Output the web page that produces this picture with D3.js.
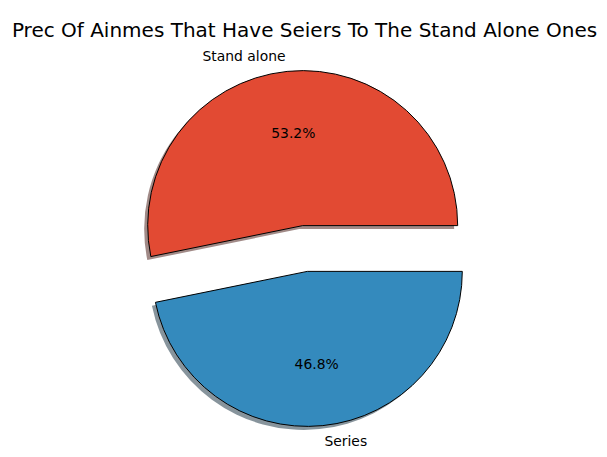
<!DOCTYPE html>
<html>
<head>
<meta charset="utf-8">
<script src="https://cdn.jsdelivr.net/npm/d3@7"></script>
<style>
  html, body { margin: 0; padding: 0; background: #ffffff; }
  svg { display: block; font-family: "DejaVu Sans", sans-serif; }
</style>
</head>
<body>
<script>
const categories = ["Stand alone", "Series"];
const values = [53.2, 46.8];
const colors = ["#E24A33", "#348ABD"];
const titleText = "Prec Of Ainmes That Have Seiers To The Stand Alone Ones";

const W = 607, H = 457;
const cx = 305, cy = 248.5, R = 155, explode = 23;
const shadowDx = -3.5, shadowDy = 3.5;

const svg = d3.select("body").append("svg").attr("width", W).attr("height", H);

// matplotlib: counterclockwise from east; d3: clockwise from north
const pie = d3.pie().sort(null).value(d => d)
  .startAngle(Math.PI / 2).endAngle(Math.PI / 2 - 2 * Math.PI);
const arcs = pie(values);
const arc = d3.arc().innerRadius(0).outerRadius(R);

const data = arcs.map((a, i) => {
  const mid = (a.startAngle + a.endAngle) / 2;
  const ux = Math.sin(mid), uy = -Math.cos(mid);
  return { a, i, mid, ux, uy, ox: cx + explode * ux, oy: cy + explode * uy };
});

// shadows
svg.append("g").selectAll("path.shadow").data(data).join("path")
  .attr("class", "shadow")
  .attr("transform", d => `translate(${d.ox + shadowDx},${d.oy + shadowDy})`)
  .attr("d", d => arc(d.a))
  .attr("fill", d => {
    const c = d3.rgb(colors[d.i]);
    return d3.rgb(c.r * 0.3, c.g * 0.3, c.b * 0.3).toString();
  })
  .attr("fill-opacity", 0.5)
  .attr("stroke", "none");

// wedges
svg.append("g").selectAll("path.wedge").data(data).join("path")
  .attr("class", "wedge")
  .attr("transform", d => `translate(${d.ox},${d.oy})`)
  .attr("d", d => arc(d.a))
  .attr("fill", d => colors[d.i])
  .attr("stroke", "#000")
  .attr("stroke-width", 1)
  .attr("stroke-linejoin", "miter");

// category labels at 1.1 R
svg.append("g").selectAll("text.lab").data(data).join("text")
  .attr("class", "lab")
  .attr("x", d => d.ox + 1.1 * R * d.ux)
  .attr("y", d => d.oy + 1.1 * R * d.uy)
  .attr("text-anchor", d => d.ux > 0 ? "start" : "end")
  .attr("dominant-baseline", "central")
  .attr("font-size", "13.9px")
  .attr("fill", "#000")
  .text(d => categories[d.i]);

// percentage labels at 0.6 R
svg.append("g").selectAll("text.pct").data(data).join("text")
  .attr("class", "pct")
  .attr("x", d => d.ox + 0.6 * R * d.ux)
  .attr("y", d => d.oy + 0.6 * R * d.uy)
  .attr("text-anchor", "middle")
  .attr("dominant-baseline", "central")
  .attr("font-size", "13.9px")
  .attr("fill", "#000")
  .text(d => values[d.i].toFixed(1) + "%");

// title
svg.append("text")
  .attr("x", 304.5)
  .attr("y", 37)
  .attr("text-anchor", "middle")
  .attr("font-size", "20px")
  .attr("fill", "#000")
  .text(titleText);
</script>
</body>
</html>
